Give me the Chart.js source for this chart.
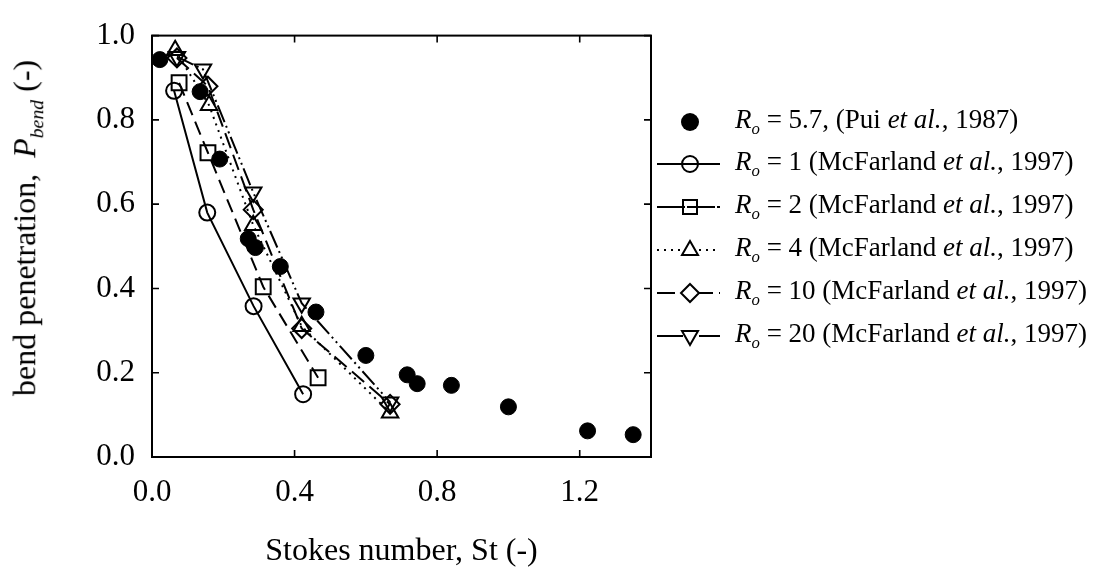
<!DOCTYPE html>
<html>
<head>
<meta charset="utf-8">
<title>Bend penetration vs Stokes number</title>
<script src="https://cdn.jsdelivr.net/npm/chart.js@4.4.1/dist/chart.umd.min.js"></script>
<style>
  html, body { margin: 0; padding: 0; background: #fff; }
  #wrap { position: relative; width: 1100px; height: 572px; font-family: 'Liberation Serif', 'Times New Roman', serif; color: #000; }
  #chart { position: absolute; left: 0; top: 0; }
  #ytitle { position: absolute; left: 27px; top: 228px; transform: translate(-50%, -50%) rotate(-90deg); white-space: nowrap; font-size: 32px; }
  .row { position: absolute; left: 650px; height: 40px; display: flex; align-items: center; white-space: nowrap; font-size: 27px; }
  .row svg { width: 80px; height: 30px; margin-right: 5px; }
  sub { font-size: 0.62em; vertical-align: -0.38em; }
</style>
</head>
<body>
<div id="wrap">
  <canvas id="chart" width="1100" height="572"></canvas>
  <div id="ytitle">bend penetration,&nbsp; <i>P</i><sub><i>bend</i></sub> (-)</div>

  <div class="row" style="top:102px">
    <svg viewBox="0 0 80 30"><circle cx="40" cy="15" r="9" fill="#000"/></svg>
    <span><i>R</i><sub><i>o</i></sub> = 5.7, (Pui <i>et al.</i>, 1987)</span>
  </div>
  <div class="row" style="top:144px">
    <svg viewBox="0 0 80 30" fill="none" stroke="#000" stroke-width="2"><line x1="7" y1="15" x2="70" y2="15"/><circle cx="40" cy="15" r="8"/></svg>
    <span><i>R</i><sub><i>o</i></sub> = 1 (McFarland <i>et al.</i>, 1997)</span>
  </div>
  <div class="row" style="top:187px">
    <svg viewBox="0 0 80 30" fill="none" stroke="#000" stroke-width="2"><line x1="7" y1="15" x2="70" y2="15" stroke-dasharray="28 2"/><rect x="33" y="8" width="14" height="14"/></svg>
    <span><i>R</i><sub><i>o</i></sub> = 2 (McFarland <i>et al.</i>, 1997)</span>
  </div>
  <div class="row" style="top:230px">
    <svg viewBox="0 0 80 30" fill="none" stroke="#000" stroke-width="2"><line x1="7" y1="15" x2="70" y2="15" stroke-dasharray="2 5"/><polygon points="40,6 48,20 32,20" fill="#fff"/></svg>
    <span><i>R</i><sub><i>o</i></sub> = 4 (McFarland <i>et al.</i>, 1997)</span>
  </div>
  <div class="row" style="top:273px">
    <svg viewBox="0 0 80 30" fill="none" stroke="#000" stroke-width="2"><line x1="7" y1="15" x2="70" y2="15" stroke-dasharray="18 6 8 6"/><polygon points="40,6 49,15 40,24 31,15" fill="#fff"/></svg>
    <span><i>R</i><sub><i>o</i></sub> = 10 (McFarland <i>et al.</i>, 1997)</span>
  </div>
  <div class="row" style="top:316px">
    <svg viewBox="0 0 80 30" fill="none" stroke="#000" stroke-width="2"><line x1="7" y1="15" x2="70" y2="15" stroke-dasharray="26 4 2 4 2 4"/><polygon points="32,10 48,10 40,24" fill="#fff"/></svg>
    <span><i>R</i><sub><i>o</i></sub> = 20 (McFarland <i>et al.</i>, 1997)</span>
  </div>
</div>

<script>
// tick values
const xTicks = [0, 0.4, 0.8, 1.2];
const yTicks = [0, 0.2, 0.4, 0.6, 0.8, 1.0];

// Pui et al., 1987 (Ro = 5.7)
const puiSt = [0.022, 0.135, 0.19, 0.27, 0.29, 0.36, 0.46, 0.60, 0.716, 0.744, 0.84, 1.0, 1.222, 1.35];
const puiP  = [0.943, 0.867, 0.707, 0.518, 0.497, 0.452, 0.344, 0.241, 0.195, 0.174, 0.17, 0.119, 0.062, 0.053];

// McFarland et al., 1997
const r1St  = [0.062, 0.155, 0.285, 0.424];
const r1P   = [0.869, 0.58, 0.358, 0.149];
const r2St  = [0.076, 0.157, 0.312, 0.466];
const r2P   = [0.888, 0.722, 0.404, 0.188];
const r4St  = [0.065, 0.16, 0.284, 0.42, 0.668];
const r4P   = [0.965, 0.835, 0.55, 0.31, 0.105];
const r10St = [0.07, 0.157, 0.284, 0.42, 0.668];
const r10P  = [0.947, 0.88, 0.587, 0.305, 0.125];
const r20St = [0.07, 0.143, 0.284, 0.42, 0.668];
const r20P  = [0.95, 0.92, 0.628, 0.365, 0.13];

const toPoints = (xs, ys) => xs.map((x, i) => ({ x: x, y: ys[i] }));

const serif = 'Liberation Serif';

function mcfarland(label, xs, ys, style, dash, radius, rotation) {
    return {
        label: label,
        data: toPoints(xs, ys),
        showLine: true,
        borderColor: '#000',
        borderWidth: 2,
        borderDash: dash,
        pointStyle: style,
        pointRadius: radius,
        pointRotation: rotation || 0,
        pointBorderColor: '#000',
        pointBorderWidth: 2,
        pointBackgroundColor: 'rgba(0,0,0,0)',
        tension: 0,
        fill: false
    };
}

// frame and inward tick marks
const frame = {
    id: 'frame',
    beforeDatasetsDraw(chart) {
        const { ctx, chartArea: a, scales: { x, y } } = chart;
        ctx.save();
        ctx.strokeStyle = '#000';
        ctx.lineWidth = 2;
        ctx.strokeRect(a.left, a.top, a.right - a.left, a.bottom - a.top);
        ctx.lineWidth = 1.6;
        ctx.beginPath();
        xTicks.forEach(v => {
            const px = x.getPixelForValue(v);
            ctx.moveTo(px, a.bottom); ctx.lineTo(px, a.bottom - 7);
            ctx.moveTo(px, a.top); ctx.lineTo(px, a.top + 7);
        });
        yTicks.forEach(v => {
            const py = y.getPixelForValue(v);
            ctx.moveTo(a.left, py); ctx.lineTo(a.left + 7, py);
            ctx.moveTo(a.right, py); ctx.lineTo(a.right - 7, py);
        });
        ctx.stroke();
        ctx.restore();
    }
};

new Chart(document.getElementById('chart').getContext('2d'), {
    type: 'scatter',
    data: {
        datasets: [
            {
                label: 'Ro = 5.7, (Pui et al., 1987)',
                data: toPoints(puiSt, puiP),
                pointStyle: 'circle',
                pointRadius: 8,
                pointBackgroundColor: '#000',
                pointBorderColor: '#000',
                showLine: false
            },
            mcfarland('Ro = 1 (McFarland et al., 1997)', r1St, r1P, 'circle', [], 8),
            mcfarland('Ro = 2 (McFarland et al., 1997)', r2St, r2P, 'rect', [14, 7], 10.5),
            mcfarland('Ro = 4 (McFarland et al., 1997)', r4St, r4P, 'triangle', [2, 5], 9.5),
            mcfarland('Ro = 10 (McFarland et al., 1997)', r10St, r10P, 'rectRot', [16, 7], 9.5),
            mcfarland('Ro = 20 (McFarland et al., 1997)', r20St, r20P, 'triangle', [18, 4, 2, 4, 2, 4], 9.5, 180)
        ]
    },
    options: {
        responsive: false,
        animation: false,
        clip: false,
        layout: { padding: { left: 0, top: 20, right: 449, bottom: 0 } },
        plugins: {
            legend: { display: false },
            tooltip: { enabled: false }
        },
        scales: {
            x: {
                type: 'linear',
                min: 0,
                max: 1.4,
                afterBuildTicks: scale => { scale.ticks = xTicks.map(v => ({ value: v })); },
                afterFit: scale => { scale.height = 115; },
                grid: { display: false, drawTicks: false },
                border: { display: false },
                ticks: {
                    padding: 17,
                    color: '#000',
                    font: { family: serif, size: 31 },
                    callback: v => Number(v).toFixed(1)
                },
                title: {
                    display: true,
                    text: 'Stokes number, St (-)',
                    color: '#000',
                    font: { family: serif, size: 32 },
                    padding: { top: 4, bottom: 1 }
                }
            },
            y: {
                type: 'linear',
                min: 0,
                max: 1,
                afterBuildTicks: scale => { scale.ticks = yTicks.map(v => ({ value: v })); },
                afterFit: scale => { scale.width = 152; },
                grid: { display: false, drawTicks: false },
                border: { display: false },
                ticks: {
                    padding: 17,
                    color: '#000',
                    font: { family: serif, size: 31 },
                    callback: v => Number(v).toFixed(1)
                }
            }
        }
    },
    plugins: [frame]
});
</script>
</body>
</html>
